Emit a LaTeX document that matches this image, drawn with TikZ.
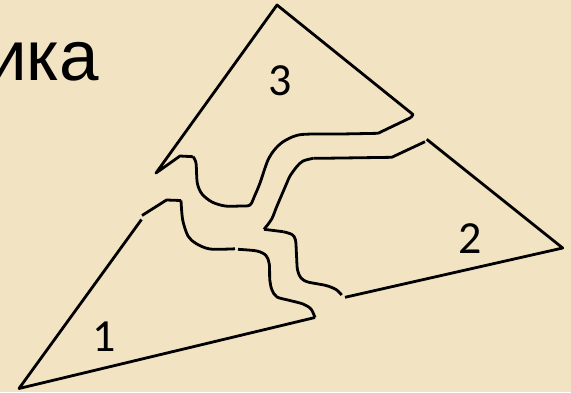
\documentclass[tikz,border=0pt]{standalone}
\usepackage{fontspec}
\setmainfont{Liberation Sans}
\newfontfamily\digitfont{Carlito}
\definecolor{parch}{RGB}{242,227,194}
\begin{document}
\begin{tikzpicture}[x=1pt,y=-1pt,
  cut/.style={line width=2.8pt, line join=round, draw=black},
  num/.style={font=\digitfont\fontsize{46}{46}\selectfont, inner sep=0pt},
  title/.style={font=\fontsize{71}{71}\selectfont, inner sep=0pt}]
\fill[parch] (0,0) rectangle (571,392);
\useasboundingbox (0,0) rectangle (571,392);
\begin{scope}
\clip (0,0) rectangle (571,392);
\node[title, anchor=base west] (ttl) at (-13,80) {ика};
\end{scope}
% piece 3
\draw[cut] (411,117.5) -- (413,114.5) -- (277,5) -- (156,173) -- (180,156) -- (193,156.7);
\draw[cut] plot[smooth, tension=0.5] coordinates {(193,156.7) (196,163) (197.3,183) (202,194) (212,202) (225,206) (240,206) (250,205) (255,195) (260,183) (268,160) (276,148) (286,140) (301.7,134.5) (340,134) (378,133.3)};
\draw[cut] (378,133.3) -- (411,117.5);
% piece 2
\draw[cut] (425,141.7) -- (391.7,157.3) -- (320,158.3) -- (313.3,158.3);
\draw[cut] plot[smooth, tension=0.5] coordinates {(313.3,158.3) (303,161) (296.7,166.7) (290,176) (286.7,183.3) (276.7,206.7) (271.7,219) (264,229.3)};
\draw[cut] (264,229.3) -- (283.3,231.7);
\draw[cut] plot[smooth, tension=0.5] coordinates {(283.3,231.7) (292,234.5) (295.5,240) (296.5,255) (297.5,270) (301,278) (308,282) (326,285.5) (336,289.5) (341.7,295)};
\draw[cut] (426.7,139.3) -- (562.7,248) -- (345,297.3);
% piece 1
\draw[cut] (141.5,219.5) -- (19,388.5) -- (315,317.5);
\draw[cut] (142,215.5) -- (166.5,200) -- (181,200.5);
\draw[cut] plot[smooth, tension=0.5] coordinates {(181,200.5) (182.7,220) (188,236) (196,243.5) (210,249) (235,248.8)};
\draw[cut] plot[smooth, tension=0.5] coordinates {(238,249.3) (257,251) (266,255.5) (269.3,264) (269.8,280) (272,290) (277,297) (290,300.5) (303,304) (311,309) (315,317.5)};
% labels
\node[num] (n3) at (279.7,81) {3};
\node[num] (n2) at (470,239) {2};
\node[num] (n1) at (104,337) {1};
\end{tikzpicture}
\end{document}
